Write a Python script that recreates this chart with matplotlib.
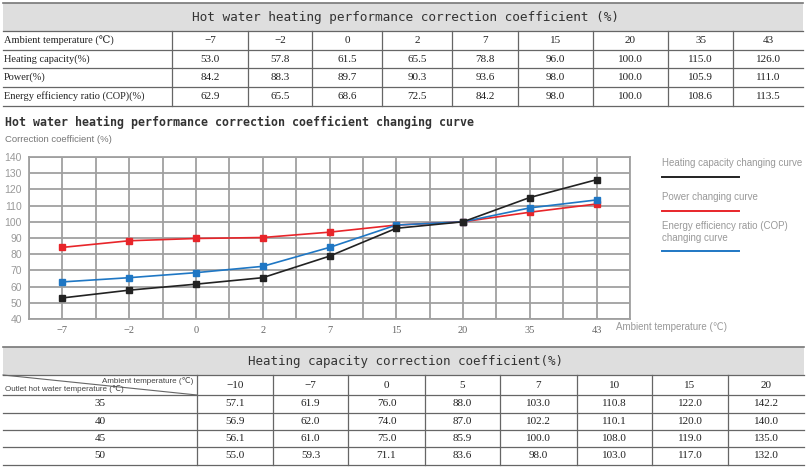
import matplotlib.pyplot as plt

# data for the top table and curve
ambient = ["-7", "-2", "0", "2", "7", "15", "20", "35", "43"]
heating_cap = [53.0, 57.8, 61.5, 65.5, 78.8, 96.0, 100.0, 115.0, 126.0]
power = [84.2, 88.3, 89.7, 90.3, 93.6, 98.0, 100.0, 105.9, 111.0]
cop = [62.9, 65.5, 68.6, 72.5, 84.2, 98.0, 100.0, 108.6, 113.5]
row_names = ["Ambient temperature (\u2103)", "Heating capacity(%)", "Power(%)",
             "Energy efficiency ratio (COP)(%)"]

# data for the bottom table
amb2 = ["-10", "-7", "0", "5", "7", "10", "15", "20"]
outlet = ["35", "40", "45", "50"]
cap35 = [57.1, 61.9, 76.0, 88.0, 103.0, 110.8, 122.0, 142.2]
cap40 = [56.9, 62.0, 74.0, 87.0, 102.2, 110.1, 120.0, 140.0]
cap45 = [56.1, 61.0, 75.0, 85.9, 100.0, 108.0, 119.0, 135.0]
cap50 = [55.0, 59.3, 71.1, 83.6, 98.0, 103.0, 117.0, 132.0]

serif = ["Liberation Serif", "DejaVu Serif"]
sans = ["Liberation Sans", "DejaVu Sans"]
mono = ["DejaVu Sans Mono"]
line_c = "#666666"
grid_c = "#a0a0a0"
head_c = "#dedede"

fig = plt.figure(figsize=(8.1, 4.71), dpi=100)
bg = fig.add_axes([0, 0, 1, 1])
bg.set_xlim(0, 810)
bg.set_ylim(471, 0)
bg.axis("off")

# ---- top table ----
bg.fill_between([3, 803], 3, 31, color=head_c, lw=0)
bg.plot([3, 803], [2.5, 2.5], color="#777777", lw=1.2)
bg.text(405, 17, "Hot water heating performance correction coefficient (%)",
        family=mono, fontsize=9.2, ha="center", va="center", color="#333333")
col_x = [172, 248, 312, 382, 452, 518, 593, 668, 733, 803]
row_y = [31, 50, 68, 87, 106]
for y in row_y:
    bg.plot([3, 803], [y, y], color=line_c, lw=0.9)
for x in col_x[:-1]:
    bg.plot([x, x], [31, 106], color=line_c, lw=0.9)
rows = [ambient, ["%.1f" % v for v in heating_cap], ["%.1f" % v for v in power],
        ["%.1f" % v for v in cop]]
for i, name in enumerate(row_names):
    yc = (row_y[i] + row_y[i + 1]) / 2
    bg.text(4, yc, name, family=serif, fontsize=7.5, ha="left", va="center", color="#222222")
    for j, v in enumerate(rows[i]):
        xc = (col_x[j] + col_x[j + 1]) / 2
        lab = v.replace("-", "\u2212")
        bg.text(xc, yc, lab, family=serif, fontsize=8, ha="center", va="center", color="#222222")

# ---- chart title ----
bg.text(5, 122, "Hot water heating performance correction coefficient changing curve",
        family=mono, fontsize=8.4, fontweight="bold", ha="left", va="center", color="#333333")
bg.text(5, 139, "Correction coefficient (%)", family=sans, fontsize=6.8,
        ha="left", va="center", color="#777777")

# ---- curve ----
ax = fig.add_axes([29 / 810, (471 - 319) / 471, (630 - 29) / 810, (319 - 157) / 471])
xpos = [2 * i + 1 for i in range(len(ambient))]
ax.set_xlim(0, 18)
ax.set_ylim(40, 140)
ax.set_yticks(range(40, 141, 10))
ax.grid(True, axis="y", color=grid_c, lw=1.3)
ax.vlines(range(0, 19), 40, 140, color=grid_c, lw=1.3, zorder=0.5)
ax.set_xticks(xpos)
ax.set_xticklabels([a.replace("-", "\u2212") for a in ambient], family=serif,
                   fontsize=7.5, color="#666666")
for t in ax.get_yticklabels():
    t.set_family(sans)
    t.set_fontsize(7.5)
    t.set_color("#999999")
ax.tick_params(which="both", length=0, pad=5)
for s in ax.spines.values():
    s.set_color(grid_c)
    s.set_linewidth(1.3)
ax.set_axisbelow(True)
ax.plot(xpos, power, color="#e8252a", lw=1.2, marker="s", ms=5, zorder=3)
ax.plot(xpos, cop, color="#1f77c4", lw=1.2, marker="s", ms=5, zorder=4)
ax.plot(xpos, heating_cap, color="#222222", lw=1.2, marker="s", ms=5, zorder=5)

bg.text(616, 327, "Ambient temperature (\u2103)", family=sans, fontsize=7,
        ha="left", va="center", color="#999999")

# legend
leg = [("Heating capacity changing curve", "#222222", 163, 177),
       ("Power changing curve", "#e8252a", 197, 211),
       ("Energy efficiency ratio (COP)\nchanging curve", "#1f77c4", 232, 251)]
for txt, c, ty, ly in leg:
    bg.text(662, ty, txt, family=sans, fontsize=7, ha="left", va="center",
            color="#999999", linespacing=1.3)
    bg.plot([662, 739], [ly, ly], color=c, lw=1.4)

# ---- bottom table ----
bg.fill_between([3, 804], 347, 375, color=head_c, lw=0)
bg.plot([3, 804], [346.5, 346.5], color="#777777", lw=1.2)
bg.text(405, 361, "Heating capacity correction coefficient(%)",
        family=mono, fontsize=9.0, ha="center", va="center", color="#333333")
col2 = [197, 273, 348, 425, 500, 577, 652, 728, 804]
row2 = [375, 395, 413, 430, 447, 465]
for y in row2:
    bg.plot([3, 804], [y, y], color=line_c, lw=0.9)
for x in col2[:-1]:
    bg.plot([x, x], [375, 465], color=line_c, lw=0.9)
bg.plot([3, 197], [375, 395], color=line_c, lw=0.8)
bg.text(193, 381, "Ambient temperature (\u2103)", family=sans, fontsize=5.8,
        ha="right", va="center", color="#444444")
bg.text(5, 389, "Outlet hot water temperature (\u2103)", family=sans, fontsize=5.8,
        ha="left", va="center", color="#444444")
for j, a in enumerate(amb2):
    xc = (col2[j] + col2[j + 1]) / 2
    bg.text(xc, 385, a.replace("-", "\u2212"), family=serif, fontsize=8,
            ha="center", va="center", color="#222222")
table2 = [cap35, cap40, cap45, cap50]
for i, o in enumerate(outlet):
    yc = (row2[i + 1] + row2[i + 2]) / 2
    bg.text(100, yc, o, family=serif, fontsize=8, ha="center", va="center", color="#222222")
    for j, v in enumerate(table2[i]):
        xc = (col2[j] + col2[j + 1]) / 2
        bg.text(xc, yc, "%.1f" % v, family=serif, fontsize=8, ha="center",
                va="center", color="#222222")

fig.savefig("out.png", dpi=100)
